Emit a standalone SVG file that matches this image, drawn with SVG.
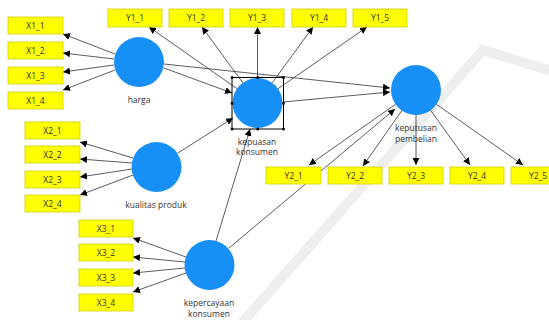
<svg xmlns="http://www.w3.org/2000/svg" width="549" height="320" viewBox="0 0 549 320">
<style>
.box{fill:#ffff00;stroke:#cfcf00;stroke-width:0.8}
.bt{font-family:"Open Sans","Noto Sans",sans-serif;font-size:8.5px;fill:#333;text-anchor:middle}
.lv{fill:#168ff7}
.lt{font-family:"Open Sans","Noto Sans",sans-serif;font-size:8.5px;fill:#333;text-anchor:middle}
.c{stroke:#333;stroke-width:0.8;fill:none;marker-end:url(#ah)}
.wm{stroke:#eeeeee;stroke-width:10;fill:none}
.sel{fill:none;stroke:#000;stroke-width:1}
.h{fill:#000}
</style>
<defs>
<marker id="ah" viewBox="0 0 10 10" refX="10" refY="5" markerWidth="7" markerHeight="7" markerUnits="userSpaceOnUse" orient="auto">
<path d="M0,0 L10,5 L0,10 Z" fill="#000"/>
</marker>
</defs>
<rect width="549" height="320" fill="#fff"/>
<g id="watermark">
<polyline class="wm" points="240,325 483,50 555,72"/>
</g>
<g id="connectors">
<line class="c" x1="115" y1="54" x2="63" y2="34"/>
<line class="c" x1="114" y1="59" x2="63" y2="53"/>
<line class="c" x1="114" y1="65" x2="63" y2="72"/>
<line class="c" x1="115" y1="70" x2="63" y2="90"/>
<line class="c" x1="133" y1="158" x2="80" y2="142"/>
<line class="c" x1="132" y1="163" x2="80" y2="159"/>
<line class="c" x1="132" y1="169" x2="80" y2="177"/>
<line class="c" x1="133" y1="175" x2="80" y2="195"/>
<line class="c" x1="186" y1="257" x2="133" y2="238"/>
<line class="c" x1="185" y1="262" x2="133" y2="257"/>
<line class="c" x1="185" y1="268" x2="133" y2="273"/>
<line class="c" x1="186" y1="273" x2="133" y2="292"/>
<line class="c" x1="237" y1="88.6" x2="149" y2="27"/>
<line class="c" x1="242.8" y1="82.8" x2="202" y2="27"/>
<line class="c" x1="257.5" y1="78" x2="257.5" y2="27"/>
<line class="c" x1="272.2" y1="82.8" x2="313" y2="27"/>
<line class="c" x1="278" y1="88.7" x2="367" y2="27"/>
<line class="c" x1="164" y1="68" x2="232" y2="93"/>
<line class="c" x1="164" y1="64" x2="390" y2="88"/>
<line class="c" x1="283" y1="102" x2="390" y2="92"/>
<line class="c" x1="178" y1="153" x2="233" y2="118"/>
<line class="c" x1="216" y1="241" x2="250" y2="129"/>
<line class="c" x1="229" y1="248" x2="395" y2="109"/>
<line class="c" x1="395.5" y1="104.3" x2="309" y2="165"/>
<line class="c" x1="401.8" y1="110.6" x2="363" y2="166"/>
<line class="c" x1="416" y1="115" x2="416" y2="165"/>
<line class="c" x1="430.6" y1="110.3" x2="470" y2="165"/>
<line class="c" x1="436.5" y1="104.3" x2="523" y2="165"/>
</g>
<g id="X1_1"><rect class="box" x="8" y="17" width="55" height="17"/><text class="bt" x="35.5" y="28.5">X1_1</text></g>
<g id="X1_2"><rect class="box" x="8" y="42" width="55" height="17"/><text class="bt" x="35.5" y="53.5">X1_2</text></g>
<g id="X1_3"><rect class="box" x="8" y="67" width="55" height="17"/><text class="bt" x="35.5" y="78.5">X1_3</text></g>
<g id="X1_4"><rect class="box" x="8" y="92" width="55" height="17"/><text class="bt" x="35.5" y="103.5">X1_4</text></g>
<g id="X2_1"><rect class="box" x="25" y="122" width="55" height="17"/><text class="bt" x="52.5" y="133.5">X2_1</text></g>
<g id="X2_2"><rect class="box" x="25" y="146" width="55" height="17"/><text class="bt" x="52.5" y="157.5">X2_2</text></g>
<g id="X2_3"><rect class="box" x="25" y="171" width="55" height="17"/><text class="bt" x="52.5" y="182.5">X2_3</text></g>
<g id="X2_4"><rect class="box" x="25" y="195" width="55" height="17"/><text class="bt" x="52.5" y="206.5">X2_4</text></g>
<g id="X3_1"><rect class="box" x="79" y="220" width="54" height="17"/><text class="bt" x="106" y="231.5">X3_1</text></g>
<g id="X3_2"><rect class="box" x="79" y="244" width="54" height="17"/><text class="bt" x="106" y="255.5">X3_2</text></g>
<g id="X3_3"><rect class="box" x="79" y="269" width="54" height="17"/><text class="bt" x="106" y="280.5">X3_3</text></g>
<g id="X3_4"><rect class="box" x="79" y="294" width="54" height="17"/><text class="bt" x="106" y="305.5">X3_4</text></g>
<g id="Y1_1"><rect class="box" x="108" y="9" width="54" height="18"/><text class="bt" x="135" y="21">Y1_1</text></g>
<g id="Y1_2"><rect class="box" x="169" y="9" width="54" height="18"/><text class="bt" x="196" y="21">Y1_2</text></g>
<g id="Y1_3"><rect class="box" x="230" y="9" width="54" height="18"/><text class="bt" x="257" y="21">Y1_3</text></g>
<g id="Y1_4"><rect class="box" x="292" y="9" width="54" height="18"/><text class="bt" x="319" y="21">Y1_4</text></g>
<g id="Y1_5"><rect class="box" x="353" y="9" width="54" height="18"/><text class="bt" x="380" y="21">Y1_5</text></g>
<g id="Y2_1"><rect class="box" x="266" y="167" width="55" height="17"/><text class="bt" x="293.5" y="178.5">Y2_1</text></g>
<g id="Y2_2"><rect class="box" x="328" y="167" width="54" height="17"/><text class="bt" x="355" y="178.5">Y2_2</text></g>
<g id="Y2_3"><rect class="box" x="389" y="167" width="54" height="17"/><text class="bt" x="416" y="178.5">Y2_3</text></g>
<g id="Y2_4"><rect class="box" x="450" y="167" width="54" height="17"/><text class="bt" x="477" y="178.5">Y2_4</text></g>
<g id="Y2_5"><rect class="box" x="511" y="167" width="54" height="17"/><text class="bt" x="538" y="178.5">Y2_5</text></g>
<g id="harga"><circle class="lv" cx="139" cy="62" r="25"/><text class="lt" x="139" y="103">harga</text></g>
<g id="kualitas_produk"><circle class="lv" cx="156.5" cy="167" r="25"/><text class="lt" x="156" y="208">kualitas produk</text></g>
<g id="kepercayaan_konsumen"><circle class="lv" cx="209.5" cy="265" r="25"/><text class="lt" x="209" y="306">kepercayaan</text><text class="lt" x="209" y="317">konsumen</text></g>
<g id="kepuasan_konsumen"><circle class="lv" cx="257.5" cy="103" r="25"/><rect class="sel" x="232" y="77.5" width="51.5" height="51.5"/>
<rect class="h" x="230.8" y="76.3" width="2.5" height="2.5"/><rect class="h" x="256.5" y="76.3" width="2.5" height="2.5"/><rect class="h" x="282.3" y="76.3" width="2.5" height="2.5"/>
<rect class="h" x="230.8" y="102" width="2.5" height="2.5"/><rect class="h" x="282.3" y="102" width="2.5" height="2.5"/>
<rect class="h" x="230.8" y="127.8" width="2.5" height="2.5"/><rect class="h" x="256.5" y="127.8" width="2.5" height="2.5"/><rect class="h" x="282.3" y="127.8" width="2.5" height="2.5"/>
<text class="lt" x="257" y="145">kepuasan</text><text class="lt" x="257" y="155">konsumen</text></g>
<g id="keputusan_pembelian"><circle class="lv" cx="416" cy="90" r="25"/><text class="lt" x="416" y="131">keputusan</text><text class="lt" x="416" y="142">pembelian</text></g>
</svg>
